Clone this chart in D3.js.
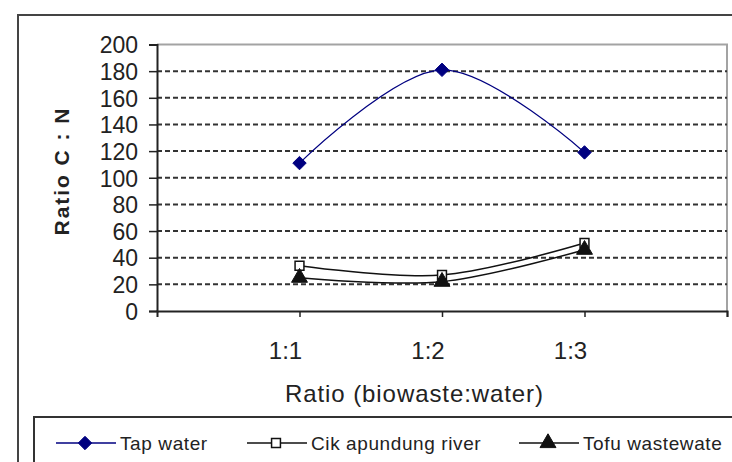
<!DOCTYPE html>
<html>
<head>
<meta charset="utf-8">
<script src="https://cdn.jsdelivr.net/npm/d3@7"></script>
<style>
  body { margin: 0; background: #fff; }
  svg { display: block; font-family: "Liberation Sans", Arial, sans-serif; }
</style>
</head>
<body>
<div id="chart"></div>
<script>
const categories = ["1:1", "1:2", "1:3"];
const tapWater = [111, 181, 119];
const cikapundung = [34, 27, 51];
const tofu = [25, 22, 46];
const yTicks = [0, 20, 40, 60, 80, 100, 120, 140, 160, 180, 200];
const seriesNames = ["Tap water", "Cik apundung river", "Tofu wastewate"];

const width = 732;
const height = 462;
const plot = { left: 157, right: 727, top: 44.5, bottom: 311 };

const svg = d3.select("#chart")
    .append("svg")
    .attr("width", width)
    .attr("height", height);

// category index 1..3 sits on a 0..4 axis, like the Excel plot
const x = d3.scaleLinear()
    .domain([0, categories.length + 1])
    .range([plot.left, plot.right]);

const y = d3.scaleLinear()
    .domain([0, 200])
    .range([plot.bottom, plot.top]);

// outer chart frame
svg.append("path")
    .attr("d", `M18,${height + 5}V15H${width + 5}`)
    .attr("fill", "none")
    .attr("stroke", "#444")
    .attr("stroke-width", 2);

// plot border (top and right, grey)
svg.append("path")
    .attr("d", `M${plot.left},${plot.top}H${plot.right}V${plot.bottom}`)
    .attr("fill", "none")
    .attr("stroke", "#a3a3a3")
    .attr("stroke-width", 2);

// dashed gridlines
svg.append("g")
    .selectAll("line")
    .data(yTicks.filter(d => d > 0 && d < 200))
    .enter().append("line")
    .attr("x1", plot.left)
    .attr("x2", plot.right)
    .attr("y1", d => y(d))
    .attr("y2", d => y(d))
    .attr("stroke", "#333")
    .attr("stroke-width", 2)
    .attr("stroke-dasharray", "5,3");

// y axis
const yAxis = svg.append("g")
    .attr("transform", `translate(${plot.left},0)`)
    .call(d3.axisLeft(y).tickValues(yTicks).tickSize(8).tickPadding(11));
yAxis.select(".domain").attr("stroke", "#222").attr("stroke-width", 2);
yAxis.selectAll(".tick line").attr("stroke", "#222").attr("stroke-width", 1.5);
yAxis.selectAll(".tick text")
    .attr("fill", "#222")
    .style("font-size", "23px")
    .attr("dy", "0.36em");

// x axis
const xAxis = svg.append("g")
    .attr("transform", `translate(0,${plot.bottom})`)
    .call(d3.axisBottom(x).tickValues([1, 2, 3, 4]).tickSize(6).tickFormat(""));
xAxis.select(".domain").attr("stroke", "#222").attr("stroke-width", 2);
xAxis.selectAll(".tick line").attr("stroke", "#222").attr("stroke-width", 1.5);

svg.append("g")
    .selectAll("text")
    .data(categories)
    .enter().append("text")
    .attr("x", (d, i) => x(i + 1) - 14)
    .attr("y", 350)
    .attr("dy", "0.36em")
    .attr("text-anchor", "middle")
    .attr("fill", "#222")
    .style("font-size", "24px")
    .text(d => d);

svg.append("text")
    .attr("x", 414)
    .attr("y", 393)
    .attr("dy", "0.36em")
    .attr("text-anchor", "middle")
    .attr("fill", "#222")
    .attr("textLength", 258)
    .attr("lengthAdjust", "spacing")
    .style("font-size", "24px")
    .text("Ratio (biowaste:water)");

svg.append("text")
    .attr("transform", "translate(61,172) rotate(-90)")
    .attr("text-anchor", "middle")
    .attr("dy", "0.36em")
    .attr("fill", "#222")
    .attr("textLength", 127)
    .attr("lengthAdjust", "spacing")
    .style("font-size", "21px")
    .style("font-weight", "bold")
    .text("Ratio C : N");

// series
const line = d3.line()
    .x((d, i) => x(i + 1))
    .y(d => y(d))
    .curve(d3.curveCatmullRom.alpha(0.5));

const diamond = d3.symbol().type(d3.symbolDiamond2).size(115);
const square = d3.symbol().type(d3.symbolSquare2).size(100);
const triangle = d3.symbol().type(d3.symbolTriangle).size(110);

const series = [
    { name: seriesNames[0], values: tapWater, stroke: "#000080", lw: 1.2, sym: diamond, fill: "#000080" },
    { name: seriesNames[1], values: cikapundung, stroke: "#111", lw: 1.5, sym: square, fill: "#fff" },
    { name: seriesNames[2], values: tofu, stroke: "#111", lw: 1.5, sym: triangle, fill: "#111" }
];

series.forEach(s => {
    svg.append("path")
        .attr("d", line(s.values))
        .attr("fill", "none")
        .attr("stroke", s.stroke)
        .attr("stroke-width", s.lw);
});

series.forEach(s => {
    svg.append("g")
        .selectAll("path")
        .data(s.values)
        .enter().append("path")
        .attr("d", s.sym)
        .attr("transform", (d, i) => `translate(${x(i + 1)},${y(d)})`)
        .attr("fill", s.fill)
        .attr("stroke", s.sym === square ? "#111" : s.fill)
        .attr("stroke-width", s.sym === square ? 1.5 : 1);
});

// legend
svg.append("path")
    .attr("d", `M34,${height + 5}V417H${width + 5}`)
    .attr("fill", "none")
    .attr("stroke", "#333")
    .attr("stroke-width", 2);

const legendX = [56, 247, 519];
const legend = svg.append("g")
    .selectAll("g")
    .data(series)
    .enter().append("g")
    .attr("transform", (d, i) => `translate(${legendX[i]},443)`);

legend.append("line")
    .attr("x1", 0)
    .attr("x2", 60)
    .attr("stroke", d => d.stroke)
    .attr("stroke-width", 1.5);

legend.append("path")
    .attr("d", d => d.sym())
    .attr("transform", "translate(29,0)")
    .attr("fill", d => d.fill)
    .attr("stroke", d => d.sym === square ? "#111" : d.fill)
    .attr("stroke-width", d => d.sym === square ? 1.5 : 1);

legend.append("text")
    .attr("x", 64)
    .attr("dy", "0.36em")
    .attr("fill", "#222")
    .style("font-size", "19px")
    .style("letter-spacing", "0.6px")
    .text(d => d.name);
</script>
</body>
</html>
